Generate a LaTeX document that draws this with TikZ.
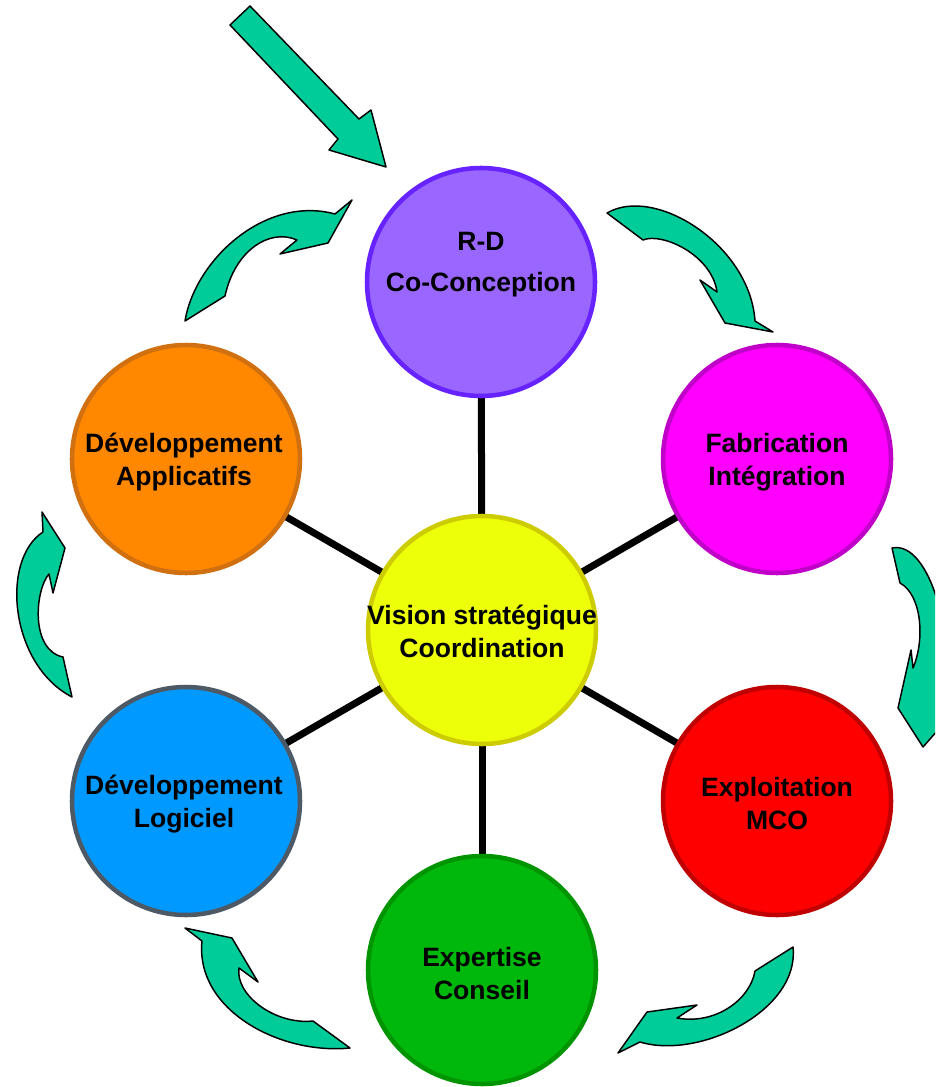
\documentclass[tikz,border=0pt]{standalone}
\usepackage{fontspec}
\setmainfont{Liberation Sans}
\usetikzlibrary{backgrounds}
\definecolor{rdfill}{HTML}{9966FF}
\definecolor{rddraw}{HTML}{6622FF}
\definecolor{fabfill}{HTML}{FF00FF}
\definecolor{fabdraw}{HTML}{C000C8}
\definecolor{expfill}{HTML}{FF0000}
\definecolor{expdraw}{HTML}{C00000}
\definecolor{consfill}{HTML}{00B80C}
\definecolor{consdraw}{HTML}{009400}
\definecolor{logfill}{HTML}{0099FF}
\definecolor{logdraw}{HTML}{4D5A66}
\definecolor{appfill}{HTML}{FF8800}
\definecolor{appdraw}{HTML}{D07010}
\definecolor{ctrfill}{HTML}{EEFF0A}
\definecolor{ctrdraw}{HTML}{CCCC00}
\definecolor{arrowfill}{HTML}{00CC99}
\begin{document}
\begin{tikzpicture}[x=0.75pt,y=-0.75pt,
  disc/.style={circle,minimum size=171pt,inner sep=0pt,line width=3.4pt},
  lbl/.style={align=center,font=\fontsize{19.9}{24.75}\selectfont\bfseries},
  spoke/.style={line width=5.25pt,black},
  flow/.style={fill=arrowfill,draw=black,line width=1.1pt,line join=round}]
\useasboundingbox (0,0) rectangle (935,1087);
\clip (0,0) rectangle (935,1087);

% circles
\node[disc,fill=ctrfill,draw=ctrdraw] (ctr) at (482,630) {};
\node[disc,fill=rdfill,draw=rddraw] (rd) at (481,282) {};
\node[disc,fill=fabfill,draw=fabdraw] (fab) at (777,459) {};
\node[disc,fill=expfill,draw=expdraw] (expl) at (777,801) {};
\node[disc,fill=consfill,draw=consdraw] (cons) at (482,970) {};
\node[disc,fill=logfill,draw=logdraw] (log) at (186,801) {};
\node[disc,fill=appfill,draw=appdraw] (app) at (186,459) {};

% labels
\node[lbl] (ctrtxt) at (482,631) {Vision stratégique\\Coordination};
\node[lbl] (rdtxt) at (481,265) {R-D\\[6pt]Co-Conception};
\node[lbl] (fabtxt) at (777,462) {Fabrication\\Intégration};
\node[lbl] (expltxt) at (777,804) {Exploitation\\MCO};
\node[lbl] (constxt) at (482,974) {Expertise\\Conseil};
\node[lbl] (logtxt) at (184,804) {Développement\\Logiciel};
\node[lbl] (apptxt) at (184,462) {Développement\\Applicatifs};

% spokes from the centre to each circle
\begin{scope}[on background layer]
\foreach \n in {rd,fab,expl,cons,log,app}
  \draw[spoke] (ctr.center) -- (\n.center);
\end{scope}

% incoming straight arrow
\draw[flow] (230,25) -- (250,6) -- (359,119) -- (371,110) -- (386,167)
  -- (329,150) -- (338,139) -- cycle;

% curved arrows around the ring
% top left
\draw[flow] (185,321) .. controls (195,260) and (265,195) .. (335,214)
  -- (352,200) -- (328,243) -- (280,254) -- (297,240)
  .. controls (270,228) and (235,250) .. (225,296) -- cycle;
% top right
\draw[flow] (607,213) .. controls (655,185) and (750,245) .. (755,321)
  -- (773,332) -- (725,323) -- (700,280) -- (717,292)
  .. controls (712,255) and (662,232) .. (643,240) -- cycle;
% right
\draw[flow] (892,548) .. controls (930,540) and (958,640) .. (945,722)
  -- (923,747) -- (898,708) -- (911,650) -- (913,668)
  .. controls (925,640) and (922,595) .. (900,583) -- cycle;
% bottom right
\draw[flow] (793,947) -- (755,971)
  .. controls (750,1000) and (715,1025) .. (677,1018)
  -- (697,1005) -- (647,1012) -- (618,1053) -- (640,1042)
  .. controls (700,1060) and (800,1010) .. (793,947) -- cycle;
% bottom left
\draw[flow] (350,1048) .. controls (280,1055) and (195,1010) .. (202,941)
  -- (185,928) -- (232,938) -- (258,982) -- (239,968)
  .. controls (235,995) and (275,1025) .. (313,1021) -- cycle;
% left
\draw[flow] (72,697) .. controls (10,665) and (0,560) .. (43,532)
  -- (42,512) -- (65,548) -- (53,593) -- (49,574)
  .. controls (35,590) and (30,650) .. (63,657) -- cycle;
\end{tikzpicture}
\end{document}
